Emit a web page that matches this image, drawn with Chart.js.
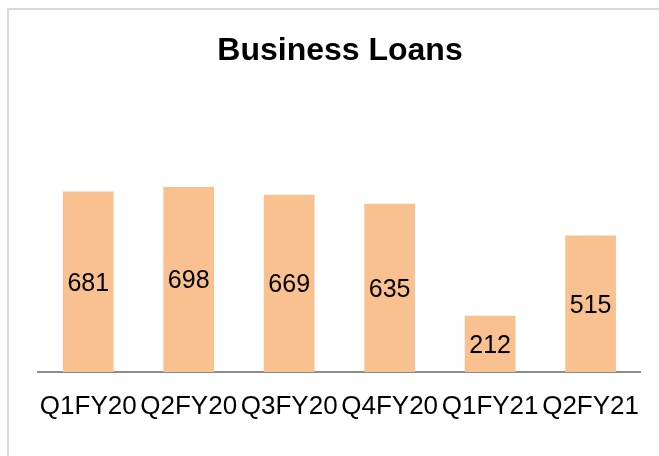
<!DOCTYPE html>
<html>
<head>
<meta charset="utf-8">
<script src="https://cdn.jsdelivr.net/npm/chart.js@4/dist/chart.umd.min.js"></script>
<style>
  html, body { margin: 0; padding: 0; background: #fff; overflow: hidden; }
  #wrap { position: relative; width: 659px; height: 456px; }
  #frame { position: absolute; left: 7px; top: 8px; width: 700px; height: 500px; border: 2px solid #d9d9d9; box-sizing: border-box; }
  canvas { position: absolute; left: 0; top: 0; }
</style>
</head>
<body>
<div id="wrap">
  <div id="frame"></div>
  <canvas id="myChart" width="659" height="456"></canvas>
</div>
<script>
var chartTitle = "Business Loans";
var quarters = ["Q1FY20", "Q2FY20", "Q3FY20", "Q4FY20", "Q1FY21", "Q2FY21"];
var loanValues = [681, 698, 669, 635, 212, 515];
var barColor = "#F9C18F";

// draws the title and the value in the middle of each bar
var labelPlugin = {
    id: "labelPlugin",
    afterDatasetsDraw: function (chart) {
        var ctx = chart.ctx;
        ctx.save();
        ctx.fillStyle = "#000";
        ctx.textAlign = "center";
        ctx.textBaseline = "middle";
        ctx.font = "bold 32px 'Liberation Sans', Arial, sans-serif";
        ctx.fillText(chartTitle, 340, 51);
        ctx.font = "25px 'Liberation Sans', Arial, sans-serif";
        chart.getDatasetMeta(0).data.forEach(function (bar, i) {
            ctx.fillText(String(loanValues[i]), bar.x, (bar.y + bar.base) / 2 + 2);
        });
        ctx.restore();
    }
};

new Chart("myChart", {
    type: "bar",
    data: {
        labels: quarters,
        datasets: [{
            data: loanValues,
            backgroundColor: barColor,
            barPercentage: 0.505,
            categoryPercentage: 1
        }]
    },
    options: {
        responsive: false,
        animation: false,
        layout: { padding: { left: 38, right: 12, top: 160, bottom: 0 } },
        plugins: {
            legend: { display: false },
            title: { display: false },
            tooltip: { enabled: false }
        },
        scales: {
            y: { display: false, min: 0, max: 800 },
            x: {
                grid: { display: false, drawTicks: false },
                border: { display: true, color: "#8c8c8c", width: 2 },
                ticks: {
                    autoSkip: false,
                    maxRotation: 0,
                    minRotation: 0,
                    padding: 19,
                    color: "#000",
                    font: { family: "'Liberation Sans', Arial, sans-serif", size: 26 }
                },
                afterFit: function (scale) { scale.height = 84; }
            }
        }
    },
    plugins: [labelPlugin]
});
</script>
</body>
</html>
